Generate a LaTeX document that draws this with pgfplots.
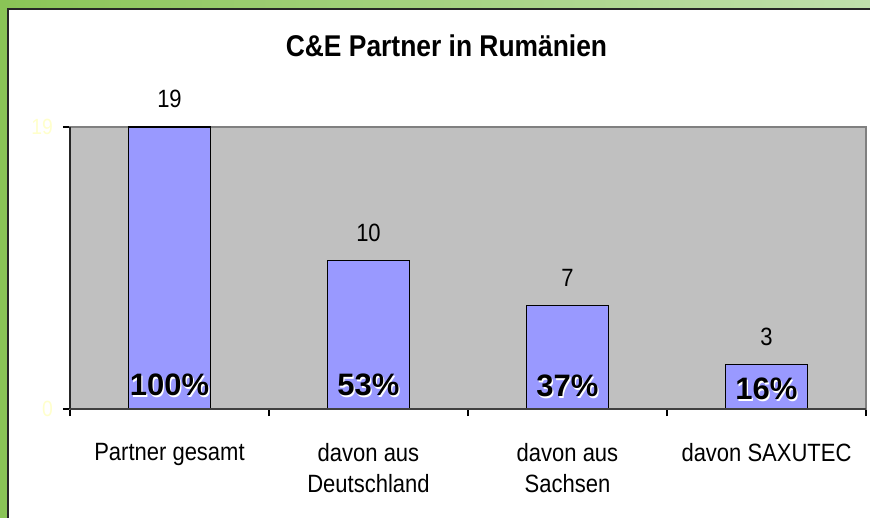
\documentclass[border=0pt]{standalone}
\usepackage{fontspec}
\setmainfont{Liberation Sans}
\newfontfamily\cond[FakeStretch=0.88]{Liberation Sans}
\usepackage{pgfplots}
\pgfplotsset{compat=1.18}
\definecolor{greenA}{RGB}{138,196,86}
\definecolor{greenB}{RGB}{192,224,172}
\definecolor{plotgray}{RGB}{192,192,192}
\definecolor{barblue}{RGB}{153,153,255}
\definecolor{ticky}{RGB}{255,255,204}
\definecolor{frameg}{RGB}{128,128,128}
\begin{document}
\begin{tikzpicture}
\useasboundingbox (0pt,0pt) rectangle (870pt,-518pt);
\shade[left color=greenA, right color=greenB] (0pt,0pt) rectangle (870pt,-518pt);
\fill[white] (8pt,-9pt) rectangle (870pt,-518pt);
\draw[line width=2pt, black!85] (8pt,-518pt) -- (8pt,-9pt) -- (870pt,-9pt);
\node[anchor=base, font=\cond\bfseries\fontsize{30}{30}\selectfont] at (446.5pt,-57pt) {C\&E Partner in Rumänien};
\begin{axis}[
  at={(70pt,-409pt)}, anchor=south west,
  scale only axis, width=796pt, height=282pt,
  clip=false,
  xmin=-0.5, xmax=3.5, ymin=0, ymax=19,
  axis background/.style={fill=plotgray},
  axis line style={draw=frameg, line width=1.5pt},
  xtick={0,1,2,3},
  xticklabels={Partner gesamt, davon aus\\Deutschland, davon aus\\Sachsen, davon SAXUTEC},
  major x tick style={draw=none},
  minor xtick={-0.5,0.5,1.5,2.5,3.5},
  ytick={0,19},
  tick align=outside,
  xtick pos=bottom, ytick pos=left,
  major tick length=7pt, minor tick length=7pt,
  tick style={black, line width=1.2pt},
  xticklabel style={anchor=north, inner sep=0pt, yshift=-27pt, align=center, font=\cond\fontsize{25}{31}\selectfont},
  yticklabel style={anchor=east, inner sep=0pt, xshift=-10pt, text=ticky, font=\cond\fontsize{22}{22}\selectfont},
  /pgf/number format/assume math mode=true,
]
\addplot[ybar, bar shift=0pt, bar width=0.415, fill=barblue, draw=black, line width=1.2pt,
  nodes near coords,
  nodes near coords style={anchor=base, yshift=19pt, inner sep=0pt, text=black, font=\cond\fontsize{25}{25}\selectfont}]
  coordinates {(0,19) (1,10) (2,7) (3,3)};
\addplot[draw=none, mark=none, nodes near coords, point meta=explicit symbolic,
  nodes near coords style={anchor=base, inner sep=0pt, xshift=1.2pt, yshift=-1.2pt, text=white, font=\bfseries\fontsize{31}{31}\selectfont}]
  coordinates {(0,0.88) [100\%] (1,0.88) [53\%] (2,0.82) [37\%] (3,0.61) [16\%]};
\addplot[draw=none, mark=none, nodes near coords, point meta=explicit symbolic,
  nodes near coords style={anchor=base, inner sep=0pt, text=black, font=\bfseries\fontsize{31}{31}\selectfont}]
  coordinates {(0,0.88) [100\%] (1,0.88) [53\%] (2,0.82) [37\%] (3,0.61) [16\%]};
\draw[black!85, line width=1.5pt] (axis cs:-0.5,19) -- (axis cs:-0.5,0);
\draw[black!75, line width=1.5pt] (axis cs:-0.5,0) -- (axis cs:3.5,0);
\end{axis}
\end{tikzpicture}
\end{document}
